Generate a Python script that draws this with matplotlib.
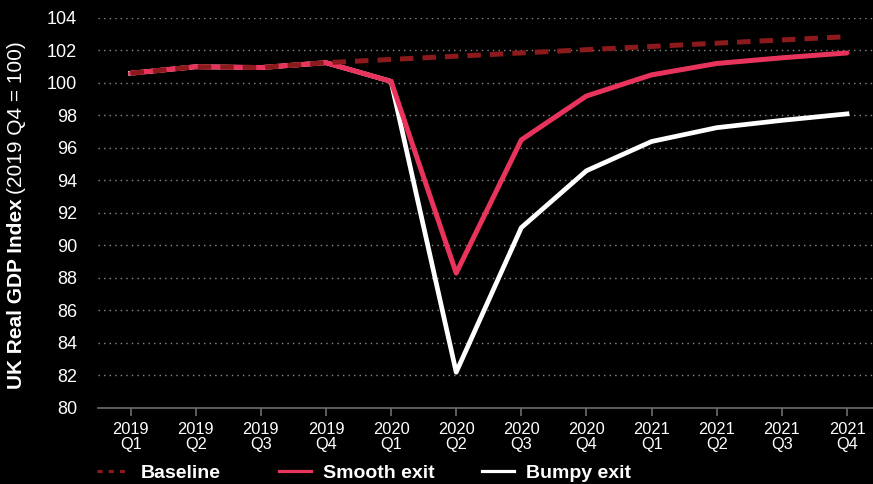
import numpy as np
import matplotlib
matplotlib.use("Agg")
import matplotlib.pyplot as plt
from matplotlib.lines import Line2D

plt.rcParams['font.family'] = ['Liberation Sans', 'DejaVu Sans']

quarters = ["2019\nQ1", "2019\nQ2", "2019\nQ3", "2019\nQ4",
            "2020\nQ1", "2020\nQ2", "2020\nQ3", "2020\nQ4",
            "2021\nQ1", "2021\nQ2", "2021\nQ3", "2021\nQ4"]
baseline = [100.6, 101.0, 100.95, 101.25, 101.45, 101.65, 101.85, 102.05,
            102.25, 102.45, 102.65, 102.85]
smooth_exit = [100.6, 101.0, 100.95, 101.25, 100.1, 88.3, 96.5, 99.2,
               100.5, 101.2, 101.55, 101.85]
bumpy_exit = [100.6, 101.0, 100.95, 101.25, 100.1, 82.2, 91.1, 94.6,
              96.4, 97.25, 97.7, 98.1]
y_ticks = list(range(80, 105, 2))
series_names = ["Baseline", "Smooth exit", "Bumpy exit"]

RED = "#e8345c"
DARK_RED = "#8c1a1c"
GREY = "#6e6e6e"
W, H = 873, 484

fig = plt.figure(figsize=(W / 100, H / 100), dpi=100, facecolor="black")
ax = fig.add_axes([98 / W, 1 - 408 / H, 775 / W, 390 / H], facecolor="black")

x = np.arange(len(quarters))
ax.plot(x, bumpy_exit, color="white", lw=3.4, zorder=3, clip_on=False)
ax.plot(x, smooth_exit, color=RED, lw=3.6, solid_capstyle="round", zorder=4, clip_on=False)
ax.plot(x, baseline, color=DARK_RED, lw=3.6, dashes=(2.7, 1.8), zorder=5, clip_on=False)

ax.set_xlim(-0.5, 11.4)
ax.set_ylim(80, 104)
ax.set_yticks(y_ticks)
ax.set_xticks(x)
ax.set_xticklabels(quarters)

for v in y_ticks[1:]:
    ax.axhline(v, color="#8a8a8a", lw=1.0, ls=(0, (1, 3)), zorder=1)

for side in ["top", "right", "left"]:
    ax.spines[side].set_visible(False)
ax.spines["bottom"].set_color(GREY)
ax.spines["bottom"].set_linewidth(1.2)

ax.tick_params(axis="y", length=0, pad=15, labelsize=13, labelcolor="white")
ax.tick_params(axis="x", length=6, width=1.2, color=GREY, pad=4,
               labelsize=11.8, labelcolor="white")
for lbl in ax.get_xticklabels():
    lbl.set_linespacing(1.0)

# y label: bold title followed by regular note, stacked along the axis
t1 = fig.text(7 / W, 1 - 389 / H, "UK Real GDP Index", rotation=90,
              color="white", fontsize=15, fontweight="bold",
              ha="left", va="bottom")
fig.canvas.draw()
bb = t1.get_window_extent()
fig.text(7 / W, (bb.y1 + 4) / H, "(2019 Q4 = 100)", rotation=90,
         color="white", fontsize=15, ha="left", va="bottom")

# legend row under the axis
legend_x = [97, 279, 482]
legend_y = 1 - 471 / H
styles = [dict(color=DARK_RED, lw=2.3, dashes=(1.6, 1.9)),
          dict(color=RED, lw=2.3),
          dict(color="white", lw=2.3)]
for lx, name, st in zip(legend_x, series_names, styles):
    fig.add_artist(Line2D([lx / W, (lx + 32) / W], [legend_y, legend_y], **st))
    fig.text((lx + 44) / W, legend_y, name, color="white", fontsize=14,
             fontweight="bold", ha="left", va="center_baseline")

fig.savefig("out.png", dpi=100, facecolor="black")
